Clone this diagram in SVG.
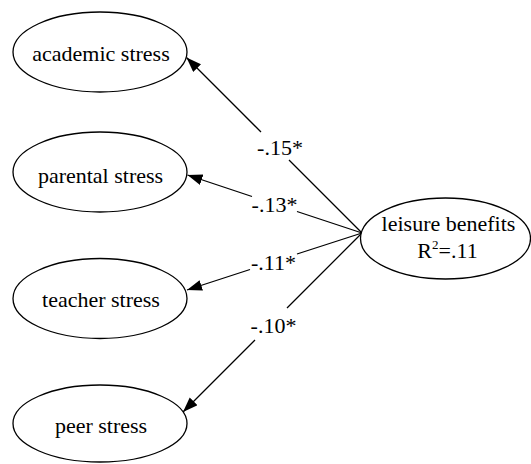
<svg xmlns="http://www.w3.org/2000/svg" width="531" height="464" viewBox="0 0 531 464">
<style>
  .node ellipse { fill: #ffffff; stroke: #000000; stroke-width: 1.3; }
  .node text, .lbl { font-family: "Liberation Serif", "Times New Roman", serif; font-size: 22px; fill: #000000; text-anchor: middle; }
  .edge { fill: none; stroke: #000000; stroke-width: 1.3; marker-end: url(#arrow); }
</style>
<defs>
  <marker id="arrow" markerUnits="userSpaceOnUse" markerWidth="16" markerHeight="12" refX="15" refY="5.5" orient="auto">
    <path d="M0,0 L15,5.5 L0,11 Z" fill="#000000"/>
  </marker>
</defs>
<rect width="531" height="464" fill="#ffffff"/>
<g id="connectors">
  <path class="edge" d="M362,233 L289,160 M261,132 L186.5,57.5"/>
  <path class="edge" d="M362,233 L297,211.5 M252,196.5 L187.5,175"/>
  <path class="edge" d="M362,233 L297,254 M250,269.5 L187,290"/>
  <path class="edge" d="M362,233 L287,308 M255,340 L183,412"/>
  <text class="lbl" x="280" y="155">-.15*</text>
  <text class="lbl" x="274.5" y="212">-.13*</text>
  <text class="lbl" x="273.5" y="270">-.11*</text>
  <text class="lbl" x="273.5" y="333">-.10*</text>
</g>
<g id="academic" class="node">
  <ellipse cx="100" cy="52" rx="87" ry="40"/>
  <text x="101" y="60.5">academic stress</text>
</g>
<g id="parental" class="node">
  <ellipse cx="100" cy="172" rx="87" ry="40"/>
  <text x="100.5" y="182.5">parental stress</text>
</g>
<g id="teacher" class="node">
  <ellipse cx="100" cy="298.5" rx="87" ry="40"/>
  <text x="101" y="306.5">teacher stress</text>
</g>
<g id="peer" class="node">
  <ellipse cx="100" cy="423.5" rx="87" ry="38.5"/>
  <text x="101" y="433">peer stress</text>
</g>
<g id="leisure" class="node">
  <ellipse cx="445.5" cy="238.5" rx="85" ry="40.5"/>
  <text x="448.5" y="231">leisure benefits</text>
  <text x="447.5" y="258">R<tspan font-size="13" dy="-9">2</tspan><tspan dy="9">=.11</tspan></text>
</g>
</svg>
